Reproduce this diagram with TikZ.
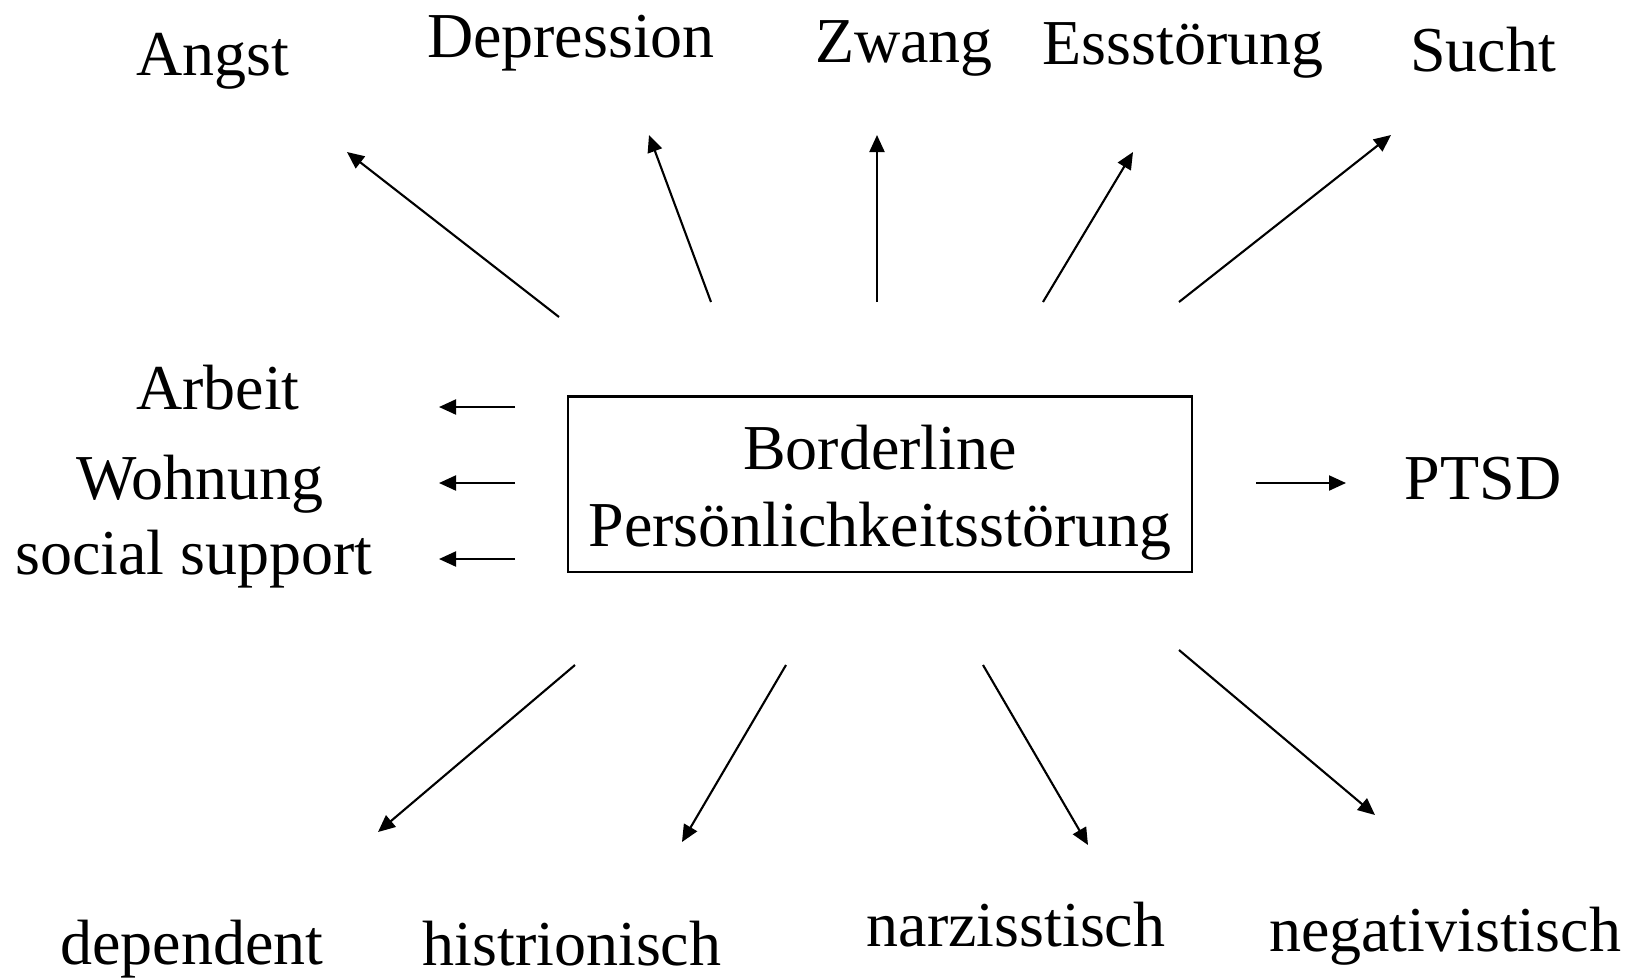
\documentclass[tikz,border=0pt]{standalone}
\usepackage{fontspec}
\setmainfont{Liberation Serif}
\usetikzlibrary{arrows.meta,positioning}

\begin{document}
\begin{tikzpicture}[x=0.01cm,y=-0.01cm,
  lbl/.style={font=\fontsize{18.2}{21}\selectfont,anchor=base,inner sep=0pt},
  core/.style={draw,line width=0.6pt,minimum width=6.23cm,minimum height=1.75cm},
  coretxt/.style={align=center,inner sep=0pt,font=\fontsize{18.2}{21.9}\selectfont},
  ar/.style={-{Triangle[length=1.7mm,width=1.5mm]},line width=0.6pt}]
  \useasboundingbox (0,0) rectangle (1630,978);
  % central disorder
  \node[core] (bpd) at (880,484) {};
  \node[coretxt] (bpdtxt) at ([yshift=-0.09cm]bpd.center) {Borderline\\Pers\"onlichkeitsst\"orung};
  % comorbid disorders, top row
  \node[lbl] (angst) at (213,75)  {Angst};
  \node[lbl] (depr)  at (571,57)  {Depression};
  \node[lbl] (zwang) at (904,62)  {Zwang};
  \node[lbl] (ess)   at (1183,64) {Essst\"orung};
  \node[lbl] (sucht) at (1483,71) {Sucht};
  % social side, left
  \node[lbl] (arbeit) at (218,409) {Arbeit};
  \node[lbl] (wohn)   at (200,499) {Wohnung};
  \node[lbl] (social) at (194,574) {social support};
  \node[lbl] (ptsd)   at (1483,499) {PTSD};
  % personality disorders, bottom row
  \node[lbl] (dep)  at (192,964)  {dependent};
  \node[lbl] (hist) at (572,965)  {histrionisch};
  \node[lbl] (narz) at (1016,946) {narzisstisch};
  \node[lbl] (neg)  at (1445,951) {negativistisch};
  % arrow end points
  \coordinate (a1s) at (559,317);  \coordinate (a1e) at (347,152);
  \coordinate (a2s) at (711,302);  \coordinate (a2e) at (649,135);
  \coordinate (a3s) at (877,302);  \coordinate (a3e) at (877,135);
  \coordinate (a4s) at (1043,302); \coordinate (a4e) at (1133,152);
  \coordinate (a5s) at (1179,302); \coordinate (a5e) at (1391,135);
  \coordinate (l1s) at (515,407);  \coordinate (l1e) at (439,407);
  \coordinate (l2s) at (515,483);  \coordinate (l2e) at (439,483);
  \coordinate (l3s) at (515,559);  \coordinate (l3e) at (439,559);
  \coordinate (r1s) at (1256,483); \coordinate (r1e) at (1346,483);
  \coordinate (b1s) at (575,665);  \coordinate (b1e) at (378,832);
  \coordinate (b2s) at (786,665);  \coordinate (b2e) at (682,842);
  \coordinate (b3s) at (983,665);  \coordinate (b3e) at (1088,845);
  \coordinate (b4s) at (1179,650); \coordinate (b4e) at (1375,815);
  % arrows
  \foreach \a in {a1,a2,a3,a4,a5,l1,l2,l3,r1,b1,b2,b3,b4}
    \draw[ar] (\a s) -- (\a e);
\end{tikzpicture}
\end{document}
